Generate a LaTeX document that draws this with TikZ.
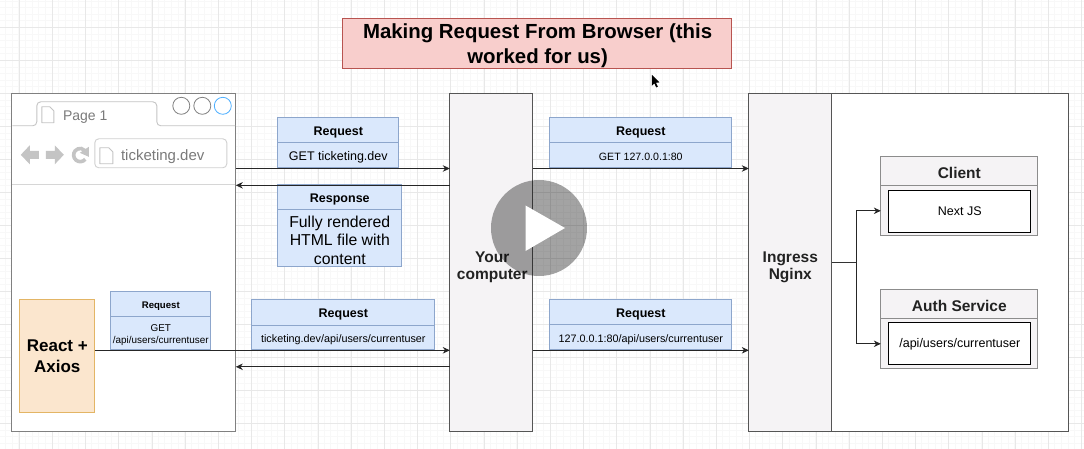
\documentclass[tikz,border=0pt]{standalone}
\usepackage{fontspec}
\setmainfont{Liberation Sans}
\usetikzlibrary{arrows.meta,calc}
\definecolor{gridminor}{HTML}{F8F8F8}
\definecolor{gridmajor}{HTML}{E8E8E8}
\definecolor{blueF}{HTML}{DAE8FC}
\definecolor{blueD}{HTML}{8DA6CC}
\definecolor{redF}{HTML}{F8CECC}
\definecolor{redD}{HTML}{B85450}
\definecolor{orF}{HTML}{FBE6CE}
\definecolor{orD}{HTML}{E3B565}
\definecolor{panelF}{HTML}{F5F3F5}
\definecolor{panelD}{HTML}{555555}
\definecolor{inkT}{HTML}{222222}
\definecolor{chrome}{HTML}{C4C4C4}
\definecolor{chromeT}{HTML}{7A7A7A}
\newcommand{\fs}[1]{\fontsize{#1}{#1}\selectfont}
\newcommand{\fl}[2]{\fontsize{#1}{#2}\selectfont}
\tikzset{
  box/.style={draw,inner sep=0pt,outer sep=0pt,align=center,line width=0.8pt},
  reqhead/.style={box,fill=blueF,draw=blueD},
  reqbody/.style={box,fill=blueF,draw=blueD},
  boxtext/.style={inner sep=0pt,align=center,text=black},
  panel/.style={box,fill=panelF,draw=panelD},
  paneltext/.style={inner sep=0pt,align=center,text=inkT,font=\fl{15.5}{17.5}\bfseries},
  svchead/.style={box,fill=panelF,draw=gray!90},
  svcbody/.style={box,fill=panelF,draw=gray!90},
  inner box/.style={box,fill=white,draw=black,text=black,line width=0.9pt},
  conn/.style={draw=black!85,line width=0.8pt,-{Stealth[length=7pt,width=6.5pt]}},
  plainconn/.style={draw=black!80,line width=0.8pt},
  winbtn/.style={circle,draw=gray,fill=white,line width=0.8pt,minimum size=17pt,inner sep=0pt},
  icon/.style={draw=chrome,fill=white,line width=0.9pt,line join=round},
  chromeglyph/.style={fill=chrome,draw=none},
}
% name x1 y1 x2 y2 ymid titlefont title bodyfont body
\newcommand{\splitbox}[9]{%
  \pgfmathsetmacro{\boxw}{#4-#2}%
  \pgfmathsetmacro{\boxcx}{(#2+#4)/2}%
  \pgfmathsetmacro{\boxhh}{#6-#3}%
  \pgfmathsetmacro{\boxbh}{#5-#6}%
  \pgfmathsetmacro{\boxhy}{(#3+#6)/2}%
  \pgfmathsetmacro{\boxby}{(#6+#5)/2}%
  \node[reqhead,minimum width=\boxw pt,minimum height=\boxhh pt] (#1h) at (\boxcx,\boxhy) {};
  \node[reqbody,minimum width=\boxw pt,minimum height=\boxbh pt] (#1) at (\boxcx,\boxby) {};
  \node[boxtext,font=#7\bfseries] (#1ht) at ($(#1h.center)+(0,2)$) {#8};
  \node[boxtext,font=#9] (#1t) at ($(#1.center)+(0,2)$) {\boxbodytext};
}
\newcommand{\pageicon}[4]{% x y w h
  \draw[icon] (#1,#2) -- ++(#3-4,0) -- ++(4,4) -- ++(0,#4-4) -- ++(-#3,0) -- cycle;
}
\begin{document}
\begin{tikzpicture}[x=1pt,y=-1pt]
\useasboundingbox (0.2,0.2) rectangle (1084.2,449.2);
\fill[white] (0,0) rectangle (1085,450);
% grid
\foreach \i in {-2,...,163}{\draw[gridminor,line width=0.4pt] ({\i*6.64+5.5},0) -- ({\i*6.64+5.5},450);}
\foreach \i in {-1,...,68}{\draw[gridminor,line width=0.4pt] (0,{\i*6.6+1}) -- (1085,{\i*6.6+1});}
\foreach \i in {0,...,32}{\draw[gridmajor,line width=0.5pt] ({\i*33.2+19.3},0) -- ({\i*33.2+19.3},450);}
\foreach \i in {0,...,13}{\draw[gridmajor,line width=0.5pt] (0,{\i*33+27.5}) -- (1085,{\i*33+27.5});}
% title
\node[box,fill=redF,draw=redD,minimum width=389pt,minimum height=50pt,text width=380pt,text=black] (title) at (537.5,44) {};
\node[boxtext,font=\fl{20.4}{25}\bfseries] (titletext) at (537.8,45.5) {Making Request From Browser (this\\worked for us)};
% browser
\node[box,fill=white,draw=gray,line width=1pt,minimum width=224pt,minimum height=338pt] (browser) at (124,263) {};
\draw[chrome,line width=0.9pt,rounded corners=4pt] (12.5,126) -- (37,126) -- (37,102) -- (157,102) -- (157,126) -- (235.5,126);
\draw[chrome!70,line width=0.9pt] (12.5,184.5) -- (235.5,184.5);
\pageicon{42}{107}{12}{16}
\node[text=chromeT,anchor=west,inner sep=0pt] (pagetab) at (63,117) {\fs{14}Page 1};
\node[winbtn] (btnA) at (181.5,106) {};
\node[winbtn] (btnB) at (202.5,106) {};
\node[winbtn,draw=blue!45!cyan!70] (btnC) at (223,106) {};
\fill[chromeglyph] (21,155) -- (30,145.5) -- (30,151) -- (39,151) -- (39,159) -- (30,159) -- (30,164.5) -- cycle;
\fill[chromeglyph] (64,155) -- (55,145.5) -- (55,151) -- (46,151) -- (46,159) -- (55,159) -- (55,164.5) -- cycle;
\draw[chrome,line width=3.6pt] (85.5,159.5) arc[start angle=40,end angle=320,radius=6.6];
\fill[chromeglyph] (89,147) -- (89,157) -- (80,153) -- cycle;
\draw[chrome!80,fill=white,line width=0.9pt,rounded corners=4pt] (95,139) rectangle (227,168);
\pageicon{100}{148}{13}{16}
\node[text=chromeT,anchor=west,inner sep=0pt] (urltext) at (121,156.5) {\fs{15}ticketing.dev};
% react
\node[box,fill=orF,draw=orD,minimum width=75pt,minimum height=113pt,text=black,font=\fl{17}{20.5}\bfseries] (react) at (57.5,356.5)
  {React +\\Axios};
% request boxes
\def\boxbodytext{GET ticketing.dev}
\splitbox{rqa}{278}{118}{399}{168}{143}{\fs{12.5}}{Request}{\fs{12.5}}
\def\boxbodytext{Fully rendered\\HTML file with\\content}
\splitbox{rsp}{278}{185}{402}{267}{210}{\fs{12.5}}{Response}{\fl{15.8}{18.3}}
\def\boxbodytext{GET\\/api/users/currentuser}
\splitbox{rqs}{111}{292}{211}{350}{317}{\fs{9.6}}{Request}{\fl{9.9}{12}}
\def\boxbodytext{ticketing.dev/api/users/currentuser}
\splitbox{rqb}{252}{300}{435}{350}{326}{\fs{12.5}}{Request}{\fs{10.8}}
\def\boxbodytext{GET 127.0.0.1:80}
\splitbox{rqc}{550}{118}{732}{168}{143}{\fs{12.5}}{Request}{\fs{10.6}}
\def\boxbodytext{127.0.0.1:80/api/users/currentuser}
\splitbox{rqd}{550}{300}{732}{350}{325}{\fs{12.5}}{Request}{\fs{10.8}}
% pillars
\node[box,fill=white,draw=panelD,minimum width=237pt,minimum height=338pt] (cluster) at (950.5,263) {};
\node[panel,minimum width=83pt,minimum height=338pt] (computer) at (491.5,263) {};
\node[paneltext] (computertext) at (492.5,267.5) {Your\\computer};
\node[panel,minimum width=83pt,minimum height=338pt] (ingress) at (790.5,263) {};
\node[paneltext] (ingresstext) at (790.5,267.5) {Ingress\\Nginx};
% services
\node[svchead,minimum width=157pt,minimum height=29pt] (clih) at (959.5,171.5) {};
\node[boxtext,text=inkT,font=\fs{15.5}\bfseries] (clit) at (959.5,173.5) {Client};
\node[svcbody,minimum width=157pt,minimum height=50pt] (clib) at (959.5,211) {};
\node[inner box,minimum width=142pt,minimum height=42pt] (clii) at (960,211.5) {\fs{12.5}\raisebox{-1pt}{Next JS}};
\node[svchead,minimum width=157pt,minimum height=29pt] (auth) at (959.5,304.5) {};
\node[boxtext,text=inkT,font=\fs{15.5}\bfseries] (autt) at (959.5,306.5) {Auth Service};
\node[svcbody,minimum width=157pt,minimum height=50pt] (autb) at (959.5,344) {};
\node[inner box,minimum width=142pt,minimum height=42pt] (auti) at (960,344) {\fs{12.5}\raisebox{-1pt}{/api/users/currentuser}};
% connectors
\draw[conn] ($(browser.east |- rqa.south)+(0,0.7)$) -- ($(computer.west |- rqa.south)+(0,0.7)$);
\draw[conn] ($(computer.west |- rsph.north)+(0,0.5)$) -- ($(browser.east |- rsph.north)+(0,0.5)$);
\draw[conn] ($(react.east |- rqs.south)+(0,0.5)$) -- ($(computer.west |- rqs.south)+(0,0.5)$);
\draw[conn] ($(computer.west |- rqs.south)+(0,17)$) -- ($(browser.east |- rqs.south)+(0,17)$);
\draw[conn] ($(computer.east |- rqc.south)+(0,0.7)$) -- ($(ingress.west |- rqc.south)+(0,0.7)$);
\draw[conn] ($(computer.east |- rqd.south)+(0,0.5)$) -- ($(ingress.west |- rqd.south)+(0,0.5)$);
\coordinate (split) at ($(ingress.east)+(24.5,0)$);
\draw[plainconn] (ingress.east) -- (split);
\draw[conn] (split) |- (clib.west);
\draw[conn] (split) |- (autb.west);
% cursor
\fill[black] (652,75) -- (652,86) -- (654.6,83.6) -- (656.4,87.6) -- (658,86.8) -- (656.2,83) -- (659.6,82.6) -- cycle;
% play button
\node[circle,fill=black,fill opacity=0.36,minimum size=96pt,inner sep=0pt] (play) at (539.2,228.2) {};
\fill[white] (525.7,205.7) -- (565.2,228.2) -- (525.7,251.2) -- cycle;
\end{tikzpicture}
\end{document}
